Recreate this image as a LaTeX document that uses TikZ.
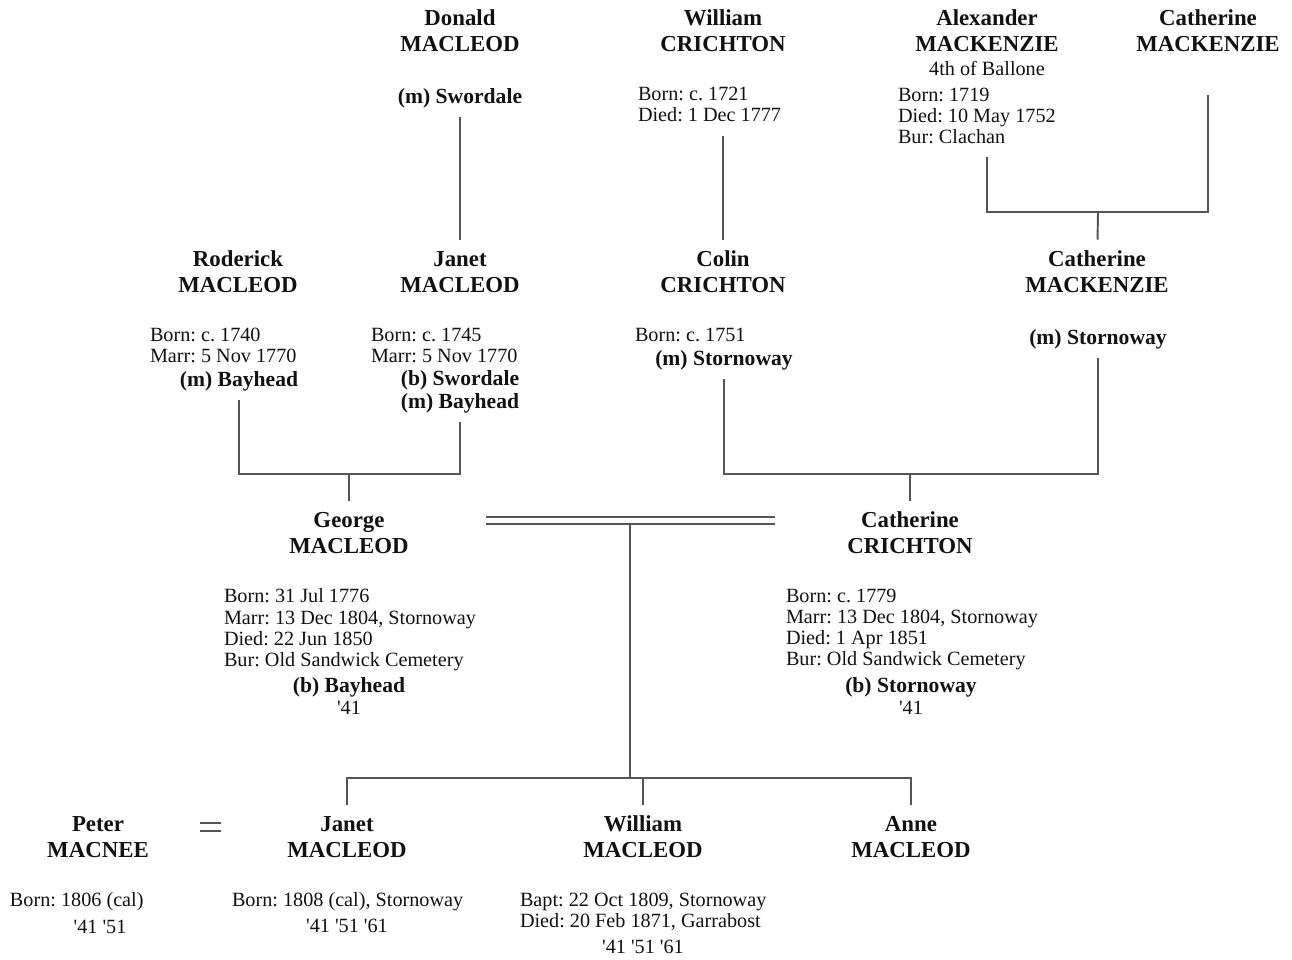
\documentclass[tikz,border=0pt]{standalone}
\usepackage{fontspec}
\setmainfont{Liberation Serif}
\frenchspacing
\usetikzlibrary{positioning}
\definecolor{LineGrey}{HTML}{555555}
\definecolor{InkBlack}{HTML}{111111}

\begin{document}
\begin{tikzpicture}[
            x=0.02cm, y=-0.02cm,
            person/.style = {align=center, inner sep=0pt, outer xsep=0pt, outer ysep=6.5pt, text=InkBlack, font=\fontsize{13}{14.7}\selectfont\bfseries},
            facts/.style = {align=left, anchor=west, inner sep=0pt, outer xsep=0pt, outer ysep=5pt, yshift=-1.8pt, text depth=3pt, text=InkBlack, font=\fontsize{11.5}{12}\selectfont},
            place/.style = {align=center, inner sep=0pt, outer xsep=0pt, outer ysep=5pt, yshift=-1.8pt, text depth=3pt, text=InkBlack, font=\fontsize{12.3}{12.6}\selectfont\bfseries},
            census/.style = {align=center, inner sep=0pt, text=InkBlack, font=\fontsize{11.5}{12}\selectfont},
            line/.style = {draw=LineGrey, line width=1.1pt},
            marr/.style = {draw=LineGrey, line width=1pt, double=white, double distance=3.4pt}
        ]
            \useasboundingbox (0,0) rectangle (1292,960);

            % great-grandparents
            \node [person] (donald) at (460,31) {Donald\\MACLEOD};
            \node [place] (donald-p) at (460,95) {(m) Swordale};
            \node [person] (wcri) at (723,31) {William\\CRICHTON};
            \node [facts] (wcri-i) at (638,104) {Born: c. 1721\\Died: 1 Dec 1777};
            \node [person] (alex) at (987,31) {Alexander\\MACKENZIE};
            \node [census] (alex-t) at (987,68) {4th of Ballone};
            \node [facts] (alex-i) at (898,115) {Born: 1719\\Died: 10 May 1752\\Bur: Clachan};
            \node [person] (catm) at (1208,31) {Catherine\\MACKENZIE};

            % grandparents
            \node [person] (rod) at (238,272) {Roderick\\MACLEOD};
            \node [facts] (rod-i) at (150,344.5) {Born: c. 1740\\Marr: 5 Nov 1770};
            \node [place] (rod-p) at (239,378) {(m) Bayhead};
            \node [person] (janet) at (460,272) {Janet\\MACLEOD};
            \node [facts] (janet-i) at (371,344.5) {Born: c. 1745\\Marr: 5 Nov 1770};
            \node [place] (janet-p) at (460,389) {(b) Swordale\\(m) Bayhead};
            \node [person] (colin) at (723,272) {Colin\\CRICHTON};
            \node [facts] (colin-i) at (635,334) {Born: c. 1751};
            \node [place] (colin-p) at (724,357) {(m) Stornoway};
            \node [person] (cmk) at (1097,272) {Catherine\\MACKENZIE};
            \node [place] (cmk-p) at (1098,336) {(m) Stornoway};

            % parents
            \node [person] (george) at (349,533) {George\\MACLEOD};
            \node [facts] (george-i) at (224,627) {Born: 31 Jul 1776\\Marr: 13 Dec 1804, Stornoway\\Died: 22 Jun 1850\\Bur: Old Sandwick Cemetery};
            \node [place] (george-p) at (349,684) {(b) Bayhead};
            \node [census] (george-c) at (349,708) {\textquotesingle41};
            \node [person] (cathc) at (910,533) {Catherine\\CRICHTON};
            \node [facts] (cathc-i) at (786,627) {Born: c. 1779\\Marr: 13 Dec 1804, Stornoway\\Died: 1 Apr 1851\\Bur: Old Sandwick Cemetery};
            \node [place] (cathc-p) at (911,684) {(b) Stornoway};
            \node [census] (cathc-c) at (911,708) {\textquotesingle41};

            % children
            \node [person] (peter) at (98,837) {Peter\\MACNEE};
            \node [facts] (peter-i) at (10,899) {Born: 1806 (cal)};
            \node [census] (peter-c) at (100,927) {\textquotesingle41 \textquotesingle51};
            \node [person] (janet2) at (347,837) {Janet\\MACLEOD};
            \node [facts] (janet2-i) at (232,899) {Born: 1808 (cal), Stornoway};
            \node [census] (janet2-c) at (347,926) {\textquotesingle41 \textquotesingle51 \textquotesingle61};
            \node [person] (william) at (643,837) {William\\MACLEOD};
            \node [facts] (william-i) at (520,909.5) {Bapt: 22 Oct 1809, Stornoway\\Died: 20 Feb 1871, Garrabost};
            \node [census] (william-c) at (643,947) {\textquotesingle41 \textquotesingle51 \textquotesingle61};
            \node [person] (anne) at (911,837) {Anne\\MACLEOD};

            \coordinate (catm-b) at (1208,95);
            \coordinate (mk-j) at (1098,212);
            \coordinate (mac-j) at (349,474);
            \coordinate (cri-j) at (910,474);
            \coordinate (wed-l) at (486,520.5);
            \coordinate (wed-r) at (775,520.5);
            \coordinate (wed-m) at (630,523);
            \coordinate (kids) at (630,778);
            \coordinate (eq-l) at (200,827);
            \coordinate (eq-r) at (221,827);

            \draw [line] (donald-p) -- (janet);
            \draw [line] (wcri-i.south -| colin) -- (colin);
            \draw [line] (alex-i.south -| alex) |- (mk-j) -| (catm-b);
            \draw [line] (mk-j) -- (cmk);
            \draw [line] (rod-p) |- (mac-j) -| (janet-p);
            \draw [line] (mac-j) -- (george);
            \draw [line] (colin-p) |- (cri-j) -| (cmk-p);
            \draw [line] (cri-j) -- (cathc);
            \draw [line] (wed-m) -- (kids);
            \draw [marr] (wed-l) -- (wed-r);
            \draw [line] (janet2) |- (kids) -| (anne);
            \draw [line] (william) -- (william |- kids);
            \draw [marr] (eq-l) -- (eq-r);
        \end{tikzpicture}
\end{document}
